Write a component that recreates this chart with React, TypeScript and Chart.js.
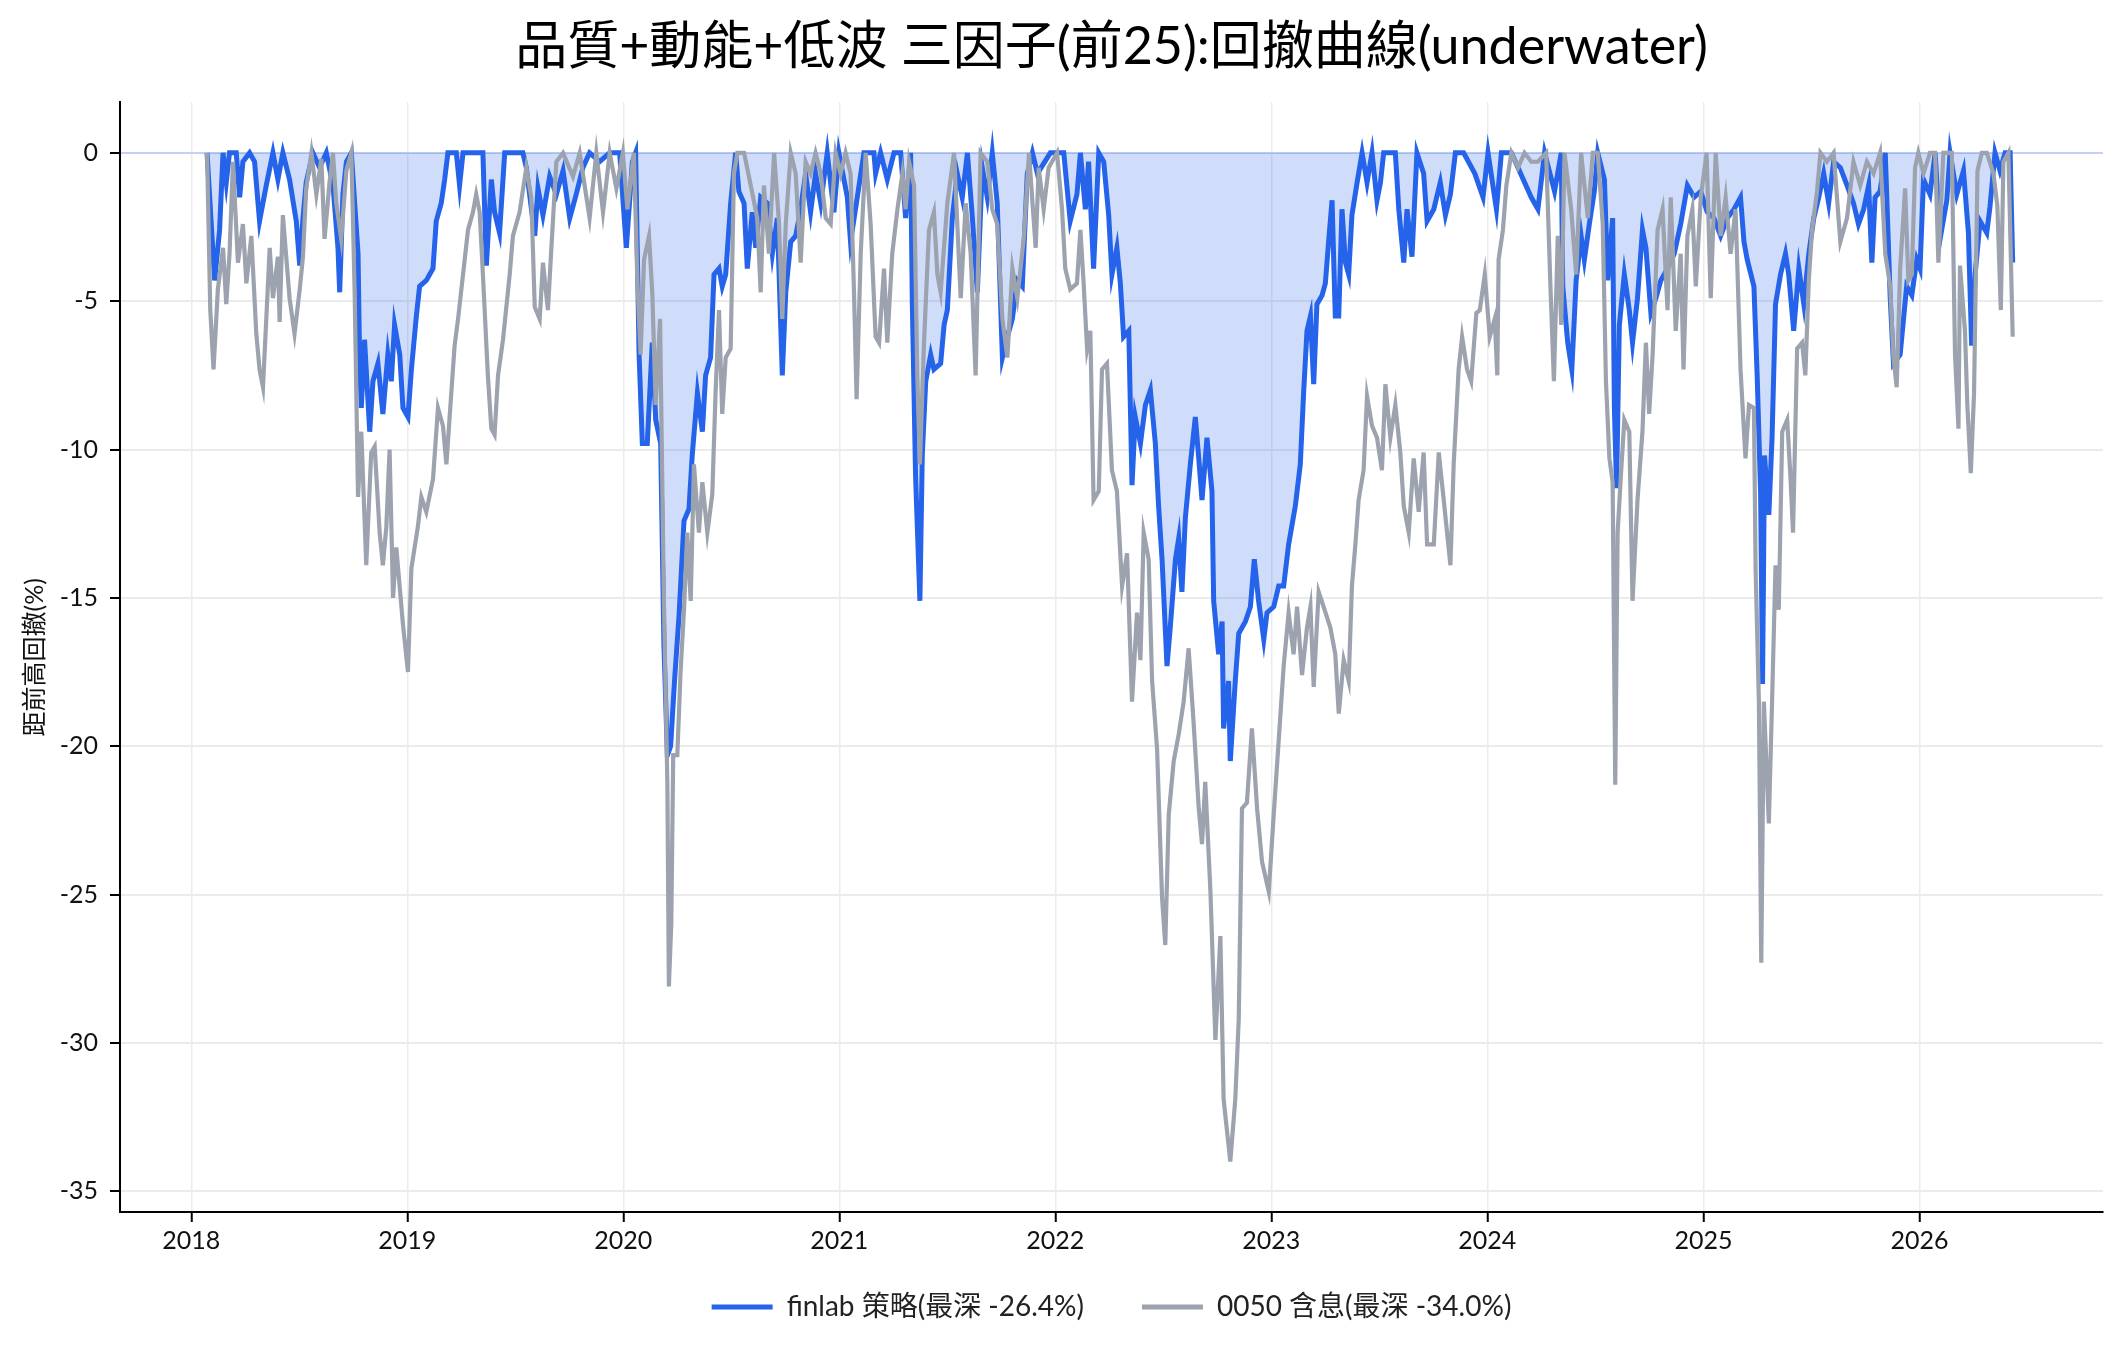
import { useEffect, useRef } from 'react'
import { Chart, registerables } from 'chart.js'

Chart.register(...registerables)

const chartTitle = '品質+動能+低波 三因子(前25):回撤曲線(underwater)'
const yAxisTitle = '距前高回撤(%)'
const stratLabel = 'finlab 策略(最深 -26.4%)'
const benchLabel = '0050 含息(最深 -34.0%)'

const yearTicks = [2018, 2019, 2020, 2021, 2022, 2023, 2024, 2025, 2026]
const drawdownTicks = [0, -5, -10, -15, -20, -25, -30, -35]

// finlab strategy drawdown (%)
const stratDates = [
  2018.073, 2018.108, 2018.131, 2018.147, 2018.162, 2018.177, 2018.208, 2018.224, 2018.239, 2018.27,
  2018.293, 2018.309, 2018.316, 2018.347, 2018.378, 2018.401, 2018.424, 2018.455, 2018.486, 2018.502,
  2018.517, 2018.532, 2018.563, 2018.594, 2018.625, 2018.656, 2018.679, 2018.687, 2018.702, 2018.718,
  2018.741, 2018.772, 2018.779, 2018.787, 2018.802, 2018.826, 2018.841, 2018.864, 2018.887, 2018.91,
  2018.926, 2018.941, 2018.965, 2018.98, 2019.003, 2019.019, 2019.042, 2019.057, 2019.088, 2019.119,
  2019.134, 2019.157, 2019.173, 2019.188, 2019.227, 2019.242, 2019.258, 2019.35, 2019.366, 2019.389,
  2019.404, 2019.427, 2019.451, 2019.535, 2019.551, 2019.59, 2019.605, 2019.628, 2019.659, 2019.69,
  2019.721, 2019.752, 2019.782, 2019.813, 2019.844, 2019.89, 2019.937, 2019.983, 2020.014, 2020.042,
  2020.057, 2020.073, 2020.088, 2020.111, 2020.134, 2020.15, 2020.173, 2020.188, 2020.204, 2020.219,
  2020.238, 2020.258, 2020.281, 2020.304, 2020.319, 2020.343, 2020.366, 2020.381, 2020.404, 2020.42,
  2020.443, 2020.458, 2020.474, 2020.497, 2020.52, 2020.535, 2020.559, 2020.574, 2020.597, 2020.613,
  2020.636, 2020.667, 2020.69, 2020.713, 2020.736, 2020.752, 2020.775, 2020.798, 2020.821, 2020.844,
  2020.867, 2020.89, 2020.914, 2020.944, 2020.975, 2020.998, 2021.037, 2021.052, 2021.083, 2021.114,
  2021.16, 2021.168, 2021.191, 2021.222, 2021.253, 2021.284, 2021.307, 2021.33, 2021.338, 2021.353,
  2021.373, 2021.384, 2021.4, 2021.423, 2021.438, 2021.469, 2021.485, 2021.5, 2021.523, 2021.546,
  2021.569, 2021.593, 2021.616, 2021.639, 2021.662, 2021.685, 2021.708, 2021.731, 2021.755, 2021.778,
  2021.801, 2021.824, 2021.847, 2021.87, 2021.894, 2021.917, 2021.977, 2022.039, 2022.069, 2022.1,
  2022.116, 2022.139, 2022.154, 2022.177, 2022.201, 2022.224, 2022.247, 2022.262, 2022.285, 2022.301,
  2022.316, 2022.34, 2022.355, 2022.37, 2022.394, 2022.417, 2022.44, 2022.463, 2022.478, 2022.494,
  2022.517, 2022.532, 2022.556, 2022.571, 2022.586, 2022.602, 2022.625, 2022.648, 2022.664, 2022.679,
  2022.702, 2022.725, 2022.733, 2022.756, 2022.772, 2022.779, 2022.802, 2022.81, 2022.833, 2022.849,
  2022.88, 2022.903, 2022.921, 2022.941, 2022.965, 2022.98, 2023.011, 2023.034, 2023.057, 2023.08,
  2023.111, 2023.134, 2023.15, 2023.165, 2023.181, 2023.196, 2023.211, 2023.235, 2023.25, 2023.265,
  2023.281, 2023.296, 2023.312, 2023.327, 2023.343, 2023.358, 2023.373, 2023.397, 2023.42, 2023.443,
  2023.466, 2023.489, 2023.505, 2023.52, 2023.574, 2023.59, 2023.613, 2023.628, 2023.651, 2023.674,
  2023.705, 2023.721, 2023.752, 2023.782, 2023.806, 2023.829, 2023.852, 2023.89, 2023.942, 2023.98,
  2024.003, 2024.042, 2024.065, 2024.111, 2024.203, 2024.234, 2024.265, 2024.311, 2024.342, 2024.349,
  2024.372, 2024.391, 2024.411, 2024.434, 2024.449, 2024.472, 2024.495, 2024.511, 2024.542, 2024.557,
  2024.58, 2024.588, 2024.598, 2024.611, 2024.634, 2024.657, 2024.672, 2024.695, 2024.718, 2024.734,
  2024.757, 2024.78, 2024.803, 2024.834, 2024.865, 2024.895, 2024.926, 2024.957, 2024.988, 2025.018,
  2025.049, 2025.08, 2025.111, 2025.142, 2025.172, 2025.188, 2025.203, 2025.234, 2025.249, 2025.265,
  2025.274, 2025.283, 2025.303, 2025.318, 2025.334, 2025.357, 2025.38, 2025.395, 2025.418, 2025.442,
  2025.465, 2025.488, 2025.511, 2025.534, 2025.557, 2025.58, 2025.603, 2025.634, 2025.665, 2025.695,
  2025.718, 2025.742, 2025.765, 2025.78, 2025.795, 2025.818, 2025.842, 2025.865, 2025.88, 2025.911,
  2025.941, 2025.965, 2025.988, 2026.003, 2026.019, 2026.049, 2026.073, 2026.096, 2026.127, 2026.142,
  2026.173, 2026.204, 2026.227, 2026.242, 2026.258, 2026.281, 2026.312, 2026.327, 2026.35, 2026.373,
  2026.397, 2026.42, 2026.432,
]
const stratDD = [
  0, -4.3, -2.6, 0, -1.0, 0, 0, -1.5, -0.3, 0,
  -0.3, -1.7, -2.3, -1.1, 0, -0.9, 0, -0.9, -2.3, -3.8,
  -2.2, -1.0, 0, -0.5, 0, -1.1, -3.2, -4.7, -1.4, -0.3,
  0, -3.4, -6.8, -8.6, -6.3, -9.4, -7.7, -7.1, -8.8, -6.8,
  -7.7, -5.8, -6.8, -8.6, -8.9, -7.3, -5.5, -4.5, -4.3, -3.9,
  -2.3, -1.7, -0.9, 0, 0, -1.1, 0, 0, -3.8, -0.9,
  -2.0, -2.7, 0, 0, -0.5, -2.8, -1.2, -2.1, -0.8, -1.4,
  -0.6, -2.2, -1.4, -0.5, 0, -0.3, 0, 0, -3.2, -0.3,
  0, -6.8, -9.8, -9.8, -6.4, -9.0, -9.8, -16.6, -20.3, -20.0,
  -17.7, -15.6, -12.4, -12.0, -10.2, -8.1, -9.4, -7.5, -6.9, -4.1,
  -3.9, -4.5, -4.1, -1.7, 0, -1.3, -1.7, -3.9, -2.0, -3.2,
  -1.5, -1.7, -3.4, -2.2, -7.5, -4.7, -3.0, -2.8, -1.9, -0.7,
  -2.0, -0.7, -1.7, 0, -2.0, 0, -1.5, -3.0, -1.5, 0,
  0, -0.7, 0, -0.9, 0, 0, -2.2, 0, -5.1, -10.9,
  -15.1, -10.2, -7.7, -6.8, -7.3, -7.1, -5.8, -5.3, -2.2, -0.7,
  -1.5, 0, -2.2, -4.7, -0.5, -1.5, 0, -1.7, -6.9, -6.2,
  -5.6, -4.3, -4.5, -0.7, 0, -0.7, 0, 0, -2.3, -1.4,
  0, -1.9, -0.3, -3.9, 0, -0.3, -2.1, -4.1, -3.2, -4.4,
  -6.2, -6.0, -11.2, -8.9, -9.8, -8.5, -8.0, -9.8, -11.9, -13.7,
  -17.3, -16.0, -13.7, -13.0, -14.8, -12.3, -10.5, -8.9, -10.3, -11.7,
  -9.6, -11.4, -15.1, -16.9, -15.8, -19.4, -17.8, -20.5, -17.8, -16.2,
  -15.8, -15.3, -13.7, -15.1, -16.4, -15.5, -15.3, -14.6, -14.6, -13.2,
  -11.9, -10.5, -8.0, -6.0, -5.5, -7.8, -5.1, -4.8, -4.4, -3.0,
  -1.6, -5.5, -5.5, -1.9, -3.7, -4.1, -2.1, -1.0, 0, -1.0,
  0, -1.6, -1.0, 0, 0, -1.9, -3.7, -1.9, -3.5, 0,
  -0.7, -2.3, -1.9, -1.0, -2.1, -1.4, 0, 0, -0.7, -1.5,
  0, -1.9, 0, 0, -1.5, -1.9, 0, -1.3, 0, -4.5,
  -6.4, -7.3, -4.3, -2.8, -3.6, -2.4, -1.3, 0, -0.9, -4.3,
  -2.2, -8.6, -11.3, -5.8, -4.1, -5.3, -6.4, -4.9, -2.6, -3.2,
  -5.4, -4.9, -4.3, -3.9, -3.4, -2.4, -1.1, -1.5, -1.3, -2.0,
  -2.2, -2.8, -2.2, -1.9, -1.5, -3.0, -3.6, -4.5, -7.5, -11.5,
  -17.9, -10.2, -12.2, -9.6, -5.1, -4.1, -3.4, -4.1, -6.0, -3.9,
  -5.1, -3.4, -2.2, -1.5, -0.7, -1.7, -0.3, -0.5, -1.1, -1.7,
  -2.4, -1.9, -1.1, -3.7, -1.5, -1.3, 0, -4.9, -7.1, -6.8,
  -4.5, -4.8, -3.6, -3.9, -0.9, -1.4, 0, -2.9, -1.6, 0,
  -1.4, -0.6, -2.7, -6.5, -4.1, -2.3, -2.7, -1.8, 0, -0.6,
  0, 0, -3.7,
]

// 0050 with dividends drawdown (%)
const benchDates = [
  2018.073, 2018.088, 2018.103, 2018.123, 2018.147, 2018.162, 2018.177, 2018.193, 2018.216, 2018.239,
  2018.255, 2018.278, 2018.301, 2018.316, 2018.332, 2018.363, 2018.378, 2018.401, 2018.409, 2018.424,
  2018.455, 2018.478, 2018.502, 2018.517, 2018.532, 2018.556, 2018.579, 2018.602, 2018.617, 2018.64,
  2018.656, 2018.671, 2018.694, 2018.718, 2018.741, 2018.756, 2018.772, 2018.787, 2018.81, 2018.833,
  2018.849, 2018.872, 2018.887, 2018.903, 2018.918, 2018.934, 2018.949, 2018.98, 2019.003, 2019.019,
  2019.049, 2019.065, 2019.088, 2019.119, 2019.142, 2019.165, 2019.181, 2019.196, 2019.219, 2019.235,
  2019.258, 2019.281, 2019.304, 2019.319, 2019.335, 2019.35, 2019.373, 2019.389, 2019.404, 2019.42,
  2019.443, 2019.474, 2019.489, 2019.52, 2019.551, 2019.574, 2019.59, 2019.613, 2019.628, 2019.651,
  2019.667, 2019.69, 2019.721, 2019.767, 2019.798, 2019.844, 2019.875, 2019.906, 2019.937, 2019.968,
  2019.998, 2020.019, 2020.049, 2020.065, 2020.08, 2020.096, 2020.119, 2020.134, 2020.15, 2020.17,
  2020.188, 2020.204, 2020.211, 2020.222, 2020.231, 2020.25, 2020.265, 2020.281, 2020.296, 2020.312,
  2020.327, 2020.35, 2020.366, 2020.389, 2020.412, 2020.427, 2020.443, 2020.458, 2020.474, 2020.497,
  2020.512, 2020.528, 2020.559, 2020.59, 2020.62, 2020.636, 2020.651, 2020.674, 2020.698, 2020.721,
  2020.736, 2020.752, 2020.775, 2020.798, 2020.821, 2020.844, 2020.867, 2020.89, 2020.914, 2020.937,
  2020.96, 2020.983, 2021.006, 2021.029, 2021.052, 2021.068, 2021.08, 2021.099, 2021.122, 2021.145,
  2021.168, 2021.184, 2021.207, 2021.222, 2021.245, 2021.269, 2021.292, 2021.307, 2021.323, 2021.346,
  2021.361, 2021.373, 2021.392, 2021.415, 2021.438, 2021.454, 2021.469, 2021.5, 2021.531, 2021.562,
  2021.585, 2021.608, 2021.631, 2021.654, 2021.685, 2021.708, 2021.731, 2021.755, 2021.778, 2021.801,
  2021.824, 2021.855, 2021.878, 2021.909, 2021.923, 2021.946, 2021.969, 2022.008, 2022.031, 2022.046,
  2022.069, 2022.1, 2022.116, 2022.131, 2022.147, 2022.162, 2022.177, 2022.201, 2022.216, 2022.239,
  2022.262, 2022.285, 2022.309, 2022.332, 2022.355, 2022.378, 2022.394, 2022.409, 2022.432, 2022.448,
  2022.471, 2022.494, 2022.509, 2022.525, 2022.548, 2022.571, 2022.594, 2022.617, 2022.64, 2022.664,
  2022.679, 2022.694, 2022.718, 2022.741, 2022.764, 2022.779, 2022.81, 2022.833, 2022.849, 2022.864,
  2022.887, 2022.91, 2022.934, 2022.957, 2022.988, 2023.011, 2023.034, 2023.057, 2023.08, 2023.103,
  2023.119, 2023.142, 2023.165, 2023.181, 2023.196, 2023.219, 2023.242, 2023.273, 2023.296, 2023.312,
  2023.335, 2023.358, 2023.373, 2023.389, 2023.404, 2023.427, 2023.443, 2023.466, 2023.489, 2023.512,
  2023.528, 2023.551, 2023.574, 2023.597, 2023.613, 2023.636, 2023.659, 2023.682, 2023.705, 2023.721,
  2023.752, 2023.775, 2023.798, 2023.829, 2023.844, 2023.867, 2023.883, 2023.906, 2023.925, 2023.949,
  2023.965, 2023.988, 2024.011, 2024.034, 2024.046, 2024.052, 2024.072, 2024.088, 2024.111, 2024.142,
  2024.172, 2024.203, 2024.234, 2024.272, 2024.292, 2024.308, 2024.326, 2024.342, 2024.357, 2024.388,
  2024.411, 2024.434, 2024.465, 2024.488, 2024.511, 2024.534, 2024.549, 2024.565, 2024.58, 2024.592,
  2024.603, 2024.618, 2024.634, 2024.657, 2024.672, 2024.695, 2024.718, 2024.734, 2024.749, 2024.765,
  2024.788, 2024.811, 2024.834, 2024.849, 2024.872, 2024.895, 2024.908, 2024.926, 2024.949, 2024.965,
  2024.988, 2025.015, 2025.034, 2025.057, 2025.08, 2025.103, 2025.126, 2025.149, 2025.172, 2025.195,
  2025.211, 2025.234, 2025.242, 2025.257, 2025.268, 2025.28, 2025.303, 2025.318, 2025.334, 2025.349,
  2025.365, 2025.388, 2025.403, 2025.415, 2025.434, 2025.457, 2025.472, 2025.488, 2025.503, 2025.526,
  2025.542, 2025.572, 2025.603, 2025.634, 2025.665, 2025.695, 2025.726, 2025.757, 2025.788, 2025.818,
  2025.842, 2025.865, 2025.88, 2025.895, 2025.911, 2025.934, 2025.949, 2025.965, 2025.98, 2025.995,
  2026.019, 2026.049, 2026.073, 2026.088, 2026.111, 2026.15, 2026.165, 2026.181, 2026.188, 2026.211,
  2026.222, 2026.238, 2026.253, 2026.269, 2026.289, 2026.312, 2026.343, 2026.361, 2026.377, 2026.389,
  2026.412, 2026.432,
]
const benchDD = [
  0, -5.3, -7.3, -4.6, -3.2, -5.1, -3.4, -0.3, -3.7, -2.4,
  -4.4, -2.8, -6.1, -7.3, -7.9, -3.2, -4.9, -3.5, -5.7, -2.1,
  -4.9, -6.1, -4.6, -3.5, -1.2, 0, -1.4, -0.2, -2.9, -1.0,
  0, -1.7, -2.9, -0.6, 0, -4.6, -11.6, -9.4, -13.9, -10.1,
  -9.9, -12.8, -13.9, -12.6, -10.0, -15.0, -13.3, -15.9, -17.5, -14.0,
  -12.6, -11.6, -12.1, -11.0, -8.6, -9.2, -10.5, -8.9, -6.5, -5.6,
  -4.1, -2.6, -2.0, -1.4, -2.0, -4.1, -7.5, -9.3, -9.5, -7.5,
  -6.3, -4.1, -2.8, -2.0, -0.5, -1.5, -5.2, -5.6, -3.7, -5.3,
  -3.2, -0.3, 0, -0.8, 0, -2.2, 0, -2.0, 0, -1.2,
  0, -1.9, 0, -4.3, -6.8, -3.6, -2.8, -4.7, -8.5, -5.6,
  -15.1, -21.3, -28.1, -26.0, -20.3, -20.3, -17.5, -15.4, -12.8, -15.1,
  -10.5, -12.8, -11.1, -12.8, -11.5, -8.1, -5.3, -8.8, -6.9, -6.6,
  -0.7, 0, 0, -1.1, -2.2, -4.7, -1.1, -3.4, 0, -2.4,
  -5.6, -2.4, 0, -0.7, -3.7, -0.3, -0.7, 0, -0.7, -2.2,
  -2.4, 0, -0.7, 0, -0.7, -4.7, -8.3, -3.4, 0, -2.4,
  -6.2, -6.4, -3.9, -6.4, -3.4, -1.9, -0.7, -1.9, -0.3, -1.1,
  -7.5, -10.5, -6.4, -2.6, -2.0, -4.1, -4.7, -1.7, 0, -4.9,
  -1.7, -3.4, -7.5, 0, -0.3, -1.9, -2.4, -5.6, -6.9, -3.9,
  -4.9, -2.8, 0, -3.2, -0.5, -1.9, -0.5, 0, -1.9, -3.9,
  -4.6, -4.4, -2.6, -4.4, -6.6, -6.0, -11.7, -11.4, -7.3, -7.1,
  -10.7, -11.4, -14.6, -13.5, -18.5, -15.5, -17.1, -12.8, -13.7, -17.8,
  -20.1, -25.1, -26.7, -22.3, -20.5, -19.6, -18.5, -16.7, -19.2, -22.1,
  -23.3, -21.2, -24.9, -29.9, -26.4, -31.9, -34.0, -31.9, -29.2, -22.1,
  -21.9, -19.4, -22.1, -23.9, -24.9, -22.3, -19.8, -17.3, -15.5, -16.9,
  -15.3, -17.6, -16.0, -15.3, -18.0, -14.8, -15.3, -16.0, -16.9, -18.9,
  -17.1, -17.8, -14.6, -13.2, -11.7, -10.7, -8.2, -9.2, -9.6, -10.7,
  -7.8, -9.6, -8.5, -10.1, -11.9, -12.8, -10.3, -12.1, -10.1, -13.2,
  -13.2, -10.1, -11.7, -13.9, -10.5, -7.3, -6.2, -7.3, -7.7, -5.4,
  -5.3, -4.1, -6.2, -5.6, -7.5, -3.6, -2.6, -1.1, 0, -0.5,
  0, -0.3, -0.3, 0, -4.5, -7.7, -2.8, -5.8, 0, -1.9,
  -4.1, 0, -2.2, 0, 0, -2.4, -7.7, -10.3, -11.1, -21.3,
  -12.8, -10.9, -9.0, -9.4, -15.1, -11.7, -9.4, -6.4, -8.8, -6.8,
  -2.6, -1.9, -5.3, -1.5, -6.0, -3.4, -7.3, -2.8, -1.9, -4.5,
  -1.5, 0, -4.9, 0, -2.8, -1.5, -3.4, -1.9, -7.3, -10.3,
  -8.5, -8.6, -14.1, -18.5, -27.3, -18.5, -22.6, -18.5, -13.9, -15.4,
  -9.4, -9.0, -10.9, -12.8, -6.6, -6.4, -7.5, -4.3, -2.6, -1.3,
  0, -0.3, 0, -3.0, -2.2, -0.3, -1.1, -0.3, -0.7, 0,
  -3.4, -4.5, -6.9, -7.9, -3.9, -1.2, -4.3, -4.1, -0.5, 0,
  -0.7, 0, 0, -3.7, 0, 0, -6.8, -9.3, -3.8, -6.0,
  -8.5, -10.8, -8.1, -0.6, 0, 0, -0.7, -1.8, -5.3, -0.3,
  0, -6.2,
]

const FONT_FAMILY = "Lato, 'Noto Sans CJK TC', 'Noto Sans', sans-serif"
const BLUE = '#2563eb'
const GRAY = '#9ca3af'

export default function App() {
  const canvasRef = useRef<HTMLCanvasElement | null>(null)
  const chartRef = useRef<Chart | null>(null)

  useEffect(() => {
    document.body.style.margin = '0'
    if (!canvasRef.current) return
    const ctx = canvasRef.current.getContext('2d')
    if (!ctx) return

    chartRef.current = new Chart(ctx, {
      type: 'line',
      data: {
        datasets: [
          {
            label: stratLabel,
            data: stratDates.map((x, i) => ({ x, y: stratDD[i] })),
            borderColor: BLUE,
            backgroundColor: 'rgba(37, 99, 235, 0.22)',
            borderWidth: 5,
            fill: 'origin',
            pointRadius: 0,
            tension: 0,
            order: 1,
          },
          {
            label: benchLabel,
            data: benchDates.map((x, i) => ({ x, y: benchDD[i] })),
            borderColor: GRAY,
            backgroundColor: GRAY,
            borderWidth: 4.2,
            fill: false,
            pointRadius: 0,
            tension: 0,
            order: 0,
          },
        ],
      },
      options: {
        responsive: false,
        animation: false,
        devicePixelRatio: 1,
        layout: { padding: { top: 0, left: 0, right: 19, bottom: 20 } },
        scales: {
          x: {
            type: 'linear',
            min: 2017.67,
            max: 2026.85,
            afterBuildTicks: (scale: any) => {
              scale.ticks = yearTicks.map((v) => ({ value: v }))
            },
            // the legend box overlaps this strip, so keep the labels from being clipped to it
            afterFit: (scale: any) => {
              scale.height = 23
              scale._computeLabelArea = () => undefined
            },
            ticks: {
              callback: (v: any) => String(v),
              font: { family: FONT_FAMILY, size: 25 },
              color: '#111',
              padding: 4,
              maxRotation: 0,
              autoSkip: false,
            },
            grid: { color: '#ebebeb', lineWidth: 1.5, tickColor: '#000', tickLength: 10, tickWidth: 2 },
            border: { color: '#000', width: 2 },
          },
          y: {
            type: 'linear',
            min: -35.7,
            max: 1.7,
            afterBuildTicks: (scale: any) => {
              scale.ticks = drawdownTicks.map((v) => ({ value: v }))
            },
            afterFit: (scale: any) => {
              scale.width = 120
            },
            ticks: {
              font: { family: FONT_FAMILY, size: 25 },
              color: '#111',
              padding: 12,
            },
            grid: {
              color: (c: any) => (c.tick && c.tick.value === 0 ? '#c3d2f3' : '#ebebeb'),
              lineWidth: 2,
              tickColor: '#000',
              tickLength: 10,
              tickWidth: 2,
            },
            border: { color: '#000', width: 2 },
            title: {
              display: true,
              text: yAxisTitle,
              font: { family: FONT_FAMILY, size: 25 },
              color: '#111',
              padding: { top: 20, bottom: 0 },
            },
          },
        },
        plugins: {
          title: {
            display: true,
            fullSize: false,
            text: chartTitle,
            font: { family: FONT_FAMILY, size: 52, weight: 'normal' },
            color: '#000',
            padding: { top: 16, bottom: 24 },
          },
          legend: {
            position: 'bottom',
            fullSize: false,
            labels: {
              boxWidth: 61,
              boxHeight: 5,
              padding: 58,
              color: '#222',
              font: { family: FONT_FAMILY, size: 28 },
              sort: (a: any, b: any) => a.datasetIndex - b.datasetIndex,
              generateLabels: (chart: any) =>
                Chart.defaults.plugins.legend.labels
                  .generateLabels(chart)
                  .map((item: any) => ({ ...item, fillStyle: item.strokeStyle, lineWidth: 0 })),
            },
          },
          tooltip: { enabled: false },
        },
      } as any,
    })

    return () => {
      if (chartRef.current) {
        chartRef.current.destroy()
        chartRef.current = null
      }
    }
  }, [])

  return (
    <div style={{ width: 2122, height: 1351, background: '#fff' }}>
      <canvas
        ref={canvasRef}
        width={2122}
        height={1351}
        style={{ display: 'block', width: 2122, height: 1351 }}
      />
    </div>
  )
}
